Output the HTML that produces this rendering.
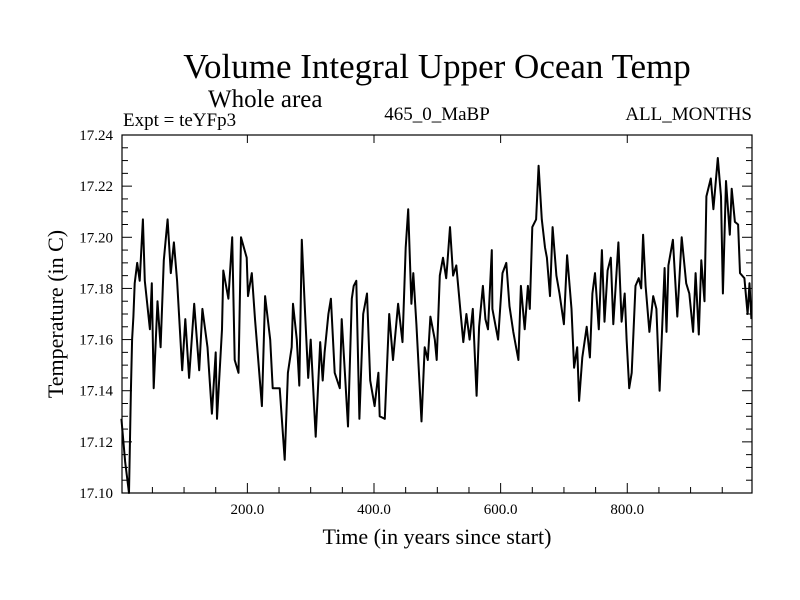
<!DOCTYPE html>
<html><head><meta charset="utf-8"><style>
body{margin:0;background:#fff}
svg{display:block;font-family:"Liberation Serif",serif}
</style></head><body>
<svg id="chart" width="800" height="600" viewBox="0 0 800 600">
<rect width="800" height="600" fill="#fff"/>
<text x="437" y="78" font-size="35" text-anchor="middle">Volume Integral Upper Ocean Temp</text>
<text x="208" y="107" font-size="25">Whole area</text>
<text x="123" y="126" font-size="19">Expt = teYFp3</text>
<text x="437" y="120" font-size="19" text-anchor="middle">465_0_MaBP</text>
<text x="752" y="120" font-size="19" text-anchor="end">ALL_MONTHS</text>
<text x="437" y="544" font-size="22" text-anchor="middle">Time (in years since start)</text>
<text transform="translate(63,314) rotate(-90)" font-size="22" text-anchor="middle">Temperature (in C)</text>
<g id="axes"></g>
<g id="plot"></g>
</svg>
<script>
const years=[1,7,13,16,18,20,22,26,30,35,38,46,49,52,58,63,68,74,79,84,89,97,102,108,116,124,129,137,144,150,152,160,162,170,176,180,186,190,199,201,207,212,223,228,236,240,
251,259,264,270,272,278,282,286,291,296,300,308,315,319,322,328,332,338,346,349,354,359,365,368,372,377,383,389,394,401,407,409,417,424,430,438,445,450,454,459,462,467,475,480,485,489,496,499,504,509,
514,516,520,525,530,537,541,546,551,556,562,566,572,576,580,586,587,596,603,609,614,620,628,632,638,643,646,650,656,660,665,670,673,678,682,688,693,700,705,712,716,721,724,729,736,741,745,
749,755,760,764,769,774,778,783,786,791,796,799,803,807,813,818,822,825,829,835,841,846,851,859,862,865,872,879,886,893,898,904,908,913,917,922,925,932,936,943,948,951,956,962,965,970,975,978,985,990,993,996];
const temps=[17.129,17.112,17.100,17.140,17.160,17.169,17.182,17.190,17.183,17.207,17.183,17.164,17.182,17.141,17.175,17.157,17.191,17.207,17.186,17.198,17.183,17.148,17.168,17.145,17.174,17.148,17.172,17.157,17.131,17.155,17.129,17.164,17.187,17.176,17.200,17.152,17.147,17.200,17.192,17.177,17.186,17.168,17.134,17.177,17.160,17.141,
17.141,17.113,17.147,17.157,17.174,17.160,17.142,17.199,17.171,17.145,17.160,17.122,17.159,17.144,17.155,17.170,17.176,17.147,17.141,17.168,17.147,17.126,17.176,17.181,17.183,17.129,17.170,17.178,17.144,17.134,17.147,17.130,17.129,17.170,17.152,17.174,17.159,17.196,17.211,17.174,17.186,17.166,17.128,17.157,17.152,17.169,17.160,17.152,17.185,17.192,
17.184,17.190,17.204,17.185,17.189,17.170,17.159,17.170,17.160,17.172,17.138,17.165,17.181,17.168,17.164,17.195,17.172,17.160,17.186,17.190,17.173,17.163,17.152,17.181,17.164,17.181,17.172,17.204,17.207,17.228,17.207,17.196,17.192,17.177,17.204,17.185,17.178,17.166,17.193,17.172,17.149,17.157,17.136,17.153,17.165,17.153,17.178,
17.186,17.164,17.195,17.167,17.187,17.192,17.166,17.186,17.198,17.167,17.178,17.160,17.141,17.147,17.181,17.184,17.180,17.201,17.181,17.163,17.177,17.172,17.140,17.188,17.163,17.189,17.199,17.169,17.200,17.182,17.178,17.163,17.186,17.162,17.191,17.175,17.216,17.223,17.211,17.231,17.216,17.178,17.222,17.201,17.219,17.206,17.205,17.186,17.184,17.170,17.182,17.168,17.180];
const xTicks=[200,400,600,800];
const xTickLabels=["200.0","400.0","600.0","800.0"];
const yTicks=[17.10,17.12,17.14,17.16,17.18,17.20,17.22,17.24];
const yTickLabels=["17.10","17.12","17.14","17.16","17.18","17.20","17.22","17.24"];

const L=122,R=752,T=135,B=493,X0=2,X1=997,Y0=17.10,Y1=17.24;
const xs=v=>L+(v-X0)/(X1-X0)*(R-L);
const ys=v=>B-(v-Y0)/(Y1-Y0)*(B-T);
const NS="http://www.w3.org/2000/svg";
const axes=document.getElementById('axes'),plot=document.getElementById('plot');
function mk(tag,attrs,parent){const e=document.createElementNS(NS,tag);for(const k in attrs)e.setAttribute(k,attrs[k]);parent.appendChild(e);return e;}

const frame=mk('rect',{x:L,y:T,width:R-L,height:B-T,fill:'none',stroke:'#000','stroke-width':1.2},axes);



for(let yr=50;yr<X1;yr+=50){
  const major=yr%200===0;const x=xs(yr);
  const t=mk('line',{x1:x,x2:x,y1:B,y2:B-(major?10:6),stroke:'#000'},axes);
  
  
  if(major){const t2=mk('line',{x1:x,x2:x,y1:T,y2:T+8,stroke:'#000'},axes);
  
  }
}
xTicks.forEach((v,i)=>{
  const tx=mk('text',{x:xs(v),y:B+21,'font-size':15,'text-anchor':'middle'},axes);
  tx.textContent=xTickLabels[i];
  
  
});
for(let k=0;k<=28;k++){
  const v=Y0+k*0.005;const y=ys(v);const major=k%4===0;
  const a=mk('line',{x1:L,x2:L+(major?10:6),y1:y,y2:y,stroke:'#000'},axes);
  
  
  const b=mk('line',{x1:R,x2:R-(major?10:6),y1:y,y2:y,stroke:'#000'},axes);
  
  
}
yTicks.forEach((v,i)=>{
  const tx=mk('text',{x:113,y:ys(v)+5,'font-size':15,'text-anchor':'end'},axes);
  tx.textContent=yTickLabels[i];
  
  
});
const d=years.map((yr,i)=>(i?'L':'M')+xs(yr).toFixed(1)+','+ys(temps[i]).toFixed(1)).join('');
const line=mk('path',{d:d,fill:'none',stroke:'#000','stroke-width':2,'stroke-linejoin':'round'},plot);


</script>
</body></html>
